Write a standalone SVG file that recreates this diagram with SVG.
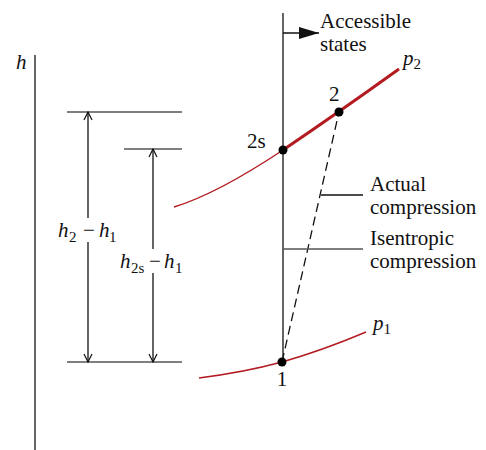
<svg xmlns="http://www.w3.org/2000/svg" width="486" height="450" viewBox="0 0 486 450">
<style>
text{font-family:"Liberation Serif","Times New Roman",serif;font-size:21px;fill:#111}
.i{font-style:italic}
.sub{font-size:15px;font-style:normal}
.ln{stroke:#111;stroke-width:1.3;fill:none}
.gr{stroke:#555;stroke-width:1.3;fill:none}
.red{stroke:#b31b20;fill:none}
</style>
<defs>
<marker id="open" viewBox="0 0 10 10" refX="9" refY="5" markerWidth="10" markerHeight="10" markerUnits="userSpaceOnUse" orient="auto-start-reverse">
<path d="M1,1 L9,5 L1,9" fill="none" stroke="#111" stroke-width="1.2"/>
</marker>
<marker id="solid" viewBox="0 0 20 12" refX="20" refY="6" markerWidth="20" markerHeight="12" markerUnits="userSpaceOnUse" orient="auto">
<path d="M0,0 L20,6 L0,12 Z" fill="#111"/>
</marker>
</defs>
<g id="axis">
<line class="ln" x1="35" y1="55" x2="35" y2="450"/>
<text class="i" x="16" y="69">h</text>
</g>
<g id="levels">
<line class="gr" x1="67" y1="112" x2="182" y2="112"/>
<line class="gr" x1="124" y1="149" x2="182" y2="149"/>
<line class="gr" x1="67" y1="362" x2="182" y2="362"/>
</g>
<g id="connectors">
<path class="ln" d="M88,218 V112" marker-end="url(#open)"/>
<path class="ln" d="M88,242 V362" marker-end="url(#open)"/>
<path class="ln" d="M153,249 V149" marker-end="url(#open)"/>
<path class="ln" d="M153,273 V362" marker-end="url(#open)"/>
<line class="ln" x1="283" y1="13" x2="283" y2="362"/>
<path class="ln" d="M283,33 H319" marker-end="url(#solid)"/>
<line class="ln" x1="282" y1="362" x2="339" y2="112" stroke-dasharray="9,5"/>
<line class="ln" x1="321" y1="195" x2="363" y2="195"/>
<line class="gr" x1="283" y1="249" x2="363" y2="249"/>
</g>
<g id="curve-p2">
<path class="red" stroke-width="1.4" d="M174,207 C210,196 250,172 283,150"/>
<path class="red" stroke-width="3" d="M283,150 C320,125 360,97 399,69"/>
<text class="i" x="403" y="65">p<tspan class="sub" dy="4">2</tspan></text>
</g>
<g id="curve-p1">
<path class="red" stroke-width="1.4" d="M199,378 C230,374 260,368 282,362 C310,354 340,343 366,332"/>
<text class="i" x="373" y="330">p<tspan class="sub" dy="4">1</tspan></text>
</g>
<g id="point-2s">
<circle cx="283" cy="150" r="4.5" fill="#000"/>
<text x="247" y="148">2s</text>
</g>
<g id="point-2">
<circle cx="339" cy="112" r="4.5" fill="#000"/>
<text x="329" y="101">2</text>
</g>
<g id="point-1">
<circle cx="282" cy="362" r="4.5" fill="#000"/>
<text x="282" y="386" text-anchor="middle">1</text>
</g>
<g id="label-accessible">
<text x="320" y="28">Accessible</text>
<text x="320" y="51">states</text>
</g>
<g id="label-actual">
<text x="370" y="191">Actual</text>
<text x="370" y="214">compression</text>
</g>
<g id="label-isentropic">
<text x="370" y="245">Isentropic</text>
<text x="370" y="268">compression</text>
</g>
<g id="label-h2-h1">
<text x="58" y="237"><tspan class="i">h</tspan><tspan class="sub" x="69" dy="5">2</tspan><tspan x="83" dy="-5">−</tspan><tspan class="i" x="99">h</tspan><tspan class="sub" x="109" dy="5">1</tspan></text>
</g>
<g id="label-h2s-h1">
<text x="120" y="268"><tspan class="i">h</tspan><tspan class="sub" x="131" dy="5">2s</tspan><tspan x="149" dy="-5">−</tspan><tspan class="i" x="164">h</tspan><tspan class="sub" x="175" dy="5">1</tspan></text>
</g>
</svg>
